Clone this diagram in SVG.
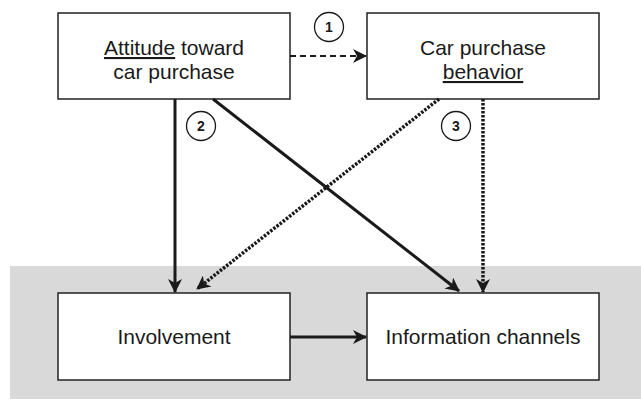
<svg xmlns="http://www.w3.org/2000/svg" width="641" height="403" viewBox="0 0 641 403">
<style>
.box{fill:#fff;stroke:#222;stroke-width:1.5}
.t{font-family:"Liberation Sans",Arial,sans-serif;font-size:21px;fill:#1a1a1a;text-anchor:middle}
.n{font-family:"Liberation Sans",Arial,sans-serif;font-size:14px;font-weight:bold;fill:#1a1a1a;text-anchor:middle}
.c{fill:#fff;stroke:#1a1a1a;stroke-width:1.3}
.solid{stroke:#1a1a1a;stroke-width:3;fill:none}
.dash{stroke:#1a1a1a;stroke-width:2;stroke-dasharray:6 4;fill:none}
.dot{stroke:#1a1a1a;stroke-width:3.5;stroke-dasharray:2.5 1.5;fill:none}
</style>
<defs>
<marker id="ah" viewBox="0 0 14 14" refX="13" refY="7" markerWidth="14" markerHeight="14" markerUnits="userSpaceOnUse" orient="auto">
<path d="M0,0 L14,7 L0,14 L4,7 z" fill="#1a1a1a"/>
</marker>
</defs>
<rect x="10" y="266" width="631" height="133" fill="#d9d9d9"/>
<g id="attitude">
<rect class="box" x="58" y="13" width="232" height="86"/>
<text class="t" x="174" y="55"><tspan text-decoration="underline">Attitude</tspan> toward</text>
<text class="t" x="174" y="79">car purchase</text>
</g>
<g id="behavior">
<rect class="box" x="367" y="13" width="232" height="86"/>
<text class="t" x="483" y="55">Car purchase</text>
<text class="t" x="483" y="79" text-decoration="underline">behavior</text>
</g>
<g id="involvement">
<rect class="box" x="58" y="293" width="232" height="87"/>
<text class="t" x="174" y="344">Involvement</text>
</g>
<g id="channels">
<rect class="box" x="367" y="293" width="232" height="87"/>
<text class="t" x="483" y="344">Information channels</text>
</g>
<g id="connectors">
<line class="dash" x1="290" y1="56" x2="366" y2="56" marker-end="url(#ah)"/>
<line class="solid" x1="175" y1="99" x2="175" y2="292" marker-end="url(#ah)"/>
<line class="solid" x1="213" y1="99" x2="459" y2="291" marker-end="url(#ah)"/>
<line class="dot" x1="439" y1="99" x2="197" y2="289" marker-end="url(#ah)"/>
<line class="dot" x1="483" y1="99" x2="483" y2="292" marker-end="url(#ah)"/>
<line class="solid" x1="290" y1="337" x2="366" y2="337" marker-end="url(#ah)"/>
</g>
<g id="label1"><circle class="c" cx="329" cy="27" r="14.5"/><text class="n" x="329" y="32">1</text></g>
<g id="label2"><circle class="c" cx="201" cy="126" r="14.5"/><text class="n" x="201" y="131">2</text></g>
<g id="label3"><circle class="c" cx="456" cy="126" r="14.5"/><text class="n" x="456" y="131">3</text></g>
</svg>
